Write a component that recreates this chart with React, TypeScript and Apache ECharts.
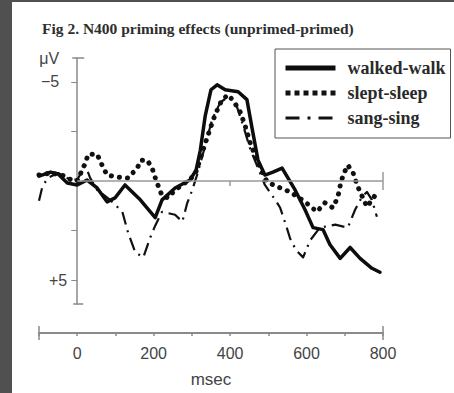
import React, { useEffect, useRef } from "react";
import * as echarts from "echarts";

// ERP difference waves (unprimed − primed), µV, negative plotted up
const walkedT = [-100, -70, -50, -26, 0, 26, 52, 78, 99, 125, 165, 204, 222, 256, 295, 311, 322, 335, 350, 366, 387, 421, 444, 458, 473, 491, 512, 536, 570, 596, 617, 643, 661, 688, 714, 740, 771, 792];
const walkedV = [-0.25, -0.45, -0.35, 0.1, 0.2, -0.05, 0.35, 1.05, 0.85, 0.2, 0.95, 1.85, 0.95, 0.35, -0.05, -0.55, -1.55, -3.3, -4.6, -4.85, -4.6, -4.5, -4.1, -2.6, -1.05, -0.3, -0.45, -0.65, 0.45, 1.45, 2.35, 2.45, 3.2, 3.9, 3.35, 3.9, 4.4, 4.6];

const sleptT = [-100, -70, -40, -10, 0, 21, 29, 52, 65, 78, 105, 133, 157, 167, 183, 196, 206, 222, 238, 256, 282, 308, 329, 342, 356, 369, 379, 395, 410, 426, 439, 452, 468, 484, 497, 525, 557, 596, 627, 648, 669, 682, 690, 698, 708, 722, 732, 758, 784];
const sleptV = [-0.3, -0.4, -0.3, 0.0, 0.0, -0.9, -1.35, -1.35, -0.8, -0.3, -0.2, -0.15, -0.65, -1.05, -1.05, -0.65, -0.05, 0.75, 0.85, 0.45, 0.1, -0.3, -1.55, -2.3, -3.1, -3.7, -4.1, -4.35, -4.0, -3.5, -2.8, -1.95, -1.15, -0.45, 0.05, 0.3, 0.55, 1.05, 1.55, 1.1, 1.35, 0.8, 0.05, -0.4, -0.8, -0.4, 0.2, 1.3, 0.6];

const sangT = [-100, -92, -78, -50, -26, 0, 21, 34, 52, 86, 118, 133, 152, 173, 191, 204, 222, 256, 275, 288, 301, 316, 335, 353, 374, 395, 416, 434, 452, 473, 491, 518, 531, 549, 557, 573, 591, 609, 635, 675, 708, 727, 745, 758, 771, 784];
const sangV = [1.0, 0.35, -0.15, -0.4, -0.15, -0.05, -0.8, -0.15, 0.45, 0.95, 1.55, 2.6, 3.6, 3.85, 2.85, 2.25, 1.55, 1.7, 2.05, 1.1, 0.45, -0.45, -1.8, -3.1, -3.95, -4.25, -3.85, -2.8, -1.65, -0.65, 0.2, 0.95, 1.35, 2.4, 2.9, 3.5, 3.85, 3.0, 2.35, 2.2, 2.35, 1.45, 0.8, 0.55, 0.95, 1.8];

const seriesNames = ["walked-walk", "slept-sleep", "sang-sing"];
const xLabelValues = [0, 200, 400, 600, 800];
const yLabelValues = [-6.2, -5, 5];
const yLabelTexts = ["μV", "−5", "+5"];
const yTickValues = [-5, -2.5, 2.5, 5];

const pairs = (t: number[], v: number[]) => t.map((x, i) => [x, v[i]]);

const SERIF = "'Liberation Serif', 'Times New Roman', serif";
const SANS = "'Liberation Sans', Arial, sans-serif";

const solidStyle = { color: "#0d0d0d", width: 3.5, type: "solid", join: "round", cap: "round" };
const dottedStyle = { color: "#111", width: 5, type: [0.1, 8], cap: "round", join: "round" };
const dashDotStyle = { color: "#111", width: 2.2, type: [13, 6, 2, 6], cap: "butt", join: "round" };

const GRID_LEFT = 27;
const GRID_WIDTH = 344;
const X_MIN = -100;
const X_MAX = 800;

export default function App() {
  const ref = useRef<HTMLDivElement>(null);

  useEffect(() => {
    if (!ref.current) return;
    const chart = echarts.init(ref.current, undefined, { renderer: "svg" });
    const yMin = -6.2;
    const yMax = 6.2;
    const xAxisOffset = 29;
    // the µV axis stands at t = 0, inside the plotting area
    const yAxisShift = -((0 - X_MIN) / (X_MAX - X_MIN)) * GRID_WIDTH;

    chart.setOption({
      animation: false,
      backgroundColor: "#ffffff",
      title: {
        text: "Fig 2. N400 priming effects (unprimed-primed)",
        left: 25,
        top: 13,
        textStyle: { fontFamily: SERIF, fontWeight: "bold", fontSize: 15.5, color: "#2e2e2e" },
      },
      legend: {
        data: [
          { name: seriesNames[0], lineStyle: { ...solidStyle, width: 5, cap: "butt" } },
          { name: seriesNames[1], lineStyle: { ...dottedStyle, width: 5, type: [5, 4], cap: "butt" } },
          { name: seriesNames[2], lineStyle: { ...dashDotStyle, width: 3, type: [14, 8, 3, 8] } },
        ],
        orient: "vertical",
        left: 263,
        top: 47,
        padding: [10, 5, 11, 8],
        itemWidth: 50,
        itemHeight: 14,
        itemGap: 7,
        itemStyle: { opacity: 0 },
        borderColor: "#555",
        borderWidth: 1,
        borderRadius: 0,
        selectedMode: false,
        textStyle: {
          fontFamily: SERIF,
          fontWeight: "bold",
          fontSize: 18,
          color: "#2a2a2a",
          padding: [0, 0, 0, 7],
          width: 100,
        },
      },
      grid: { left: GRID_LEFT, width: GRID_WIDTH, top: 56, height: 246, containLabel: false, outerBoundsMode: "none" },
      xAxis: {
        type: "value",
        min: X_MIN,
        max: X_MAX,
        interval: 100,
        offset: xAxisOffset,
        name: "msec",
        nameLocation: "middle",
        nameGap: 38,
        nameTextStyle: { fontFamily: SANS, fontSize: 17, color: "#444" },
        axisLine: { onZero: false, lineStyle: { color: "#8a8a8a", width: 2 } },
        axisTick: { show: true, length: 3, lineStyle: { color: "#8a8a8a", width: 1.5 } },
        axisLabel: {
          margin: 12,
          fontFamily: SANS,
          fontSize: 16,
          color: "#444",
          customValues: xLabelValues,
          showMinLabel: true,
          showMaxLabel: true,
        },
        splitLine: { show: false },
      },
      yAxis: {
        type: "value",
        min: yMin,
        max: yMax,
        inverse: true,
        offset: yAxisShift,
        axisLine: { onZero: false, lineStyle: { color: "#8a8a8a", width: 1.5 } },
        axisTick: { show: true, length: 6, customValues: yTickValues, lineStyle: { color: "#8a8a8a", width: 1 } },
        axisLabel: {
          margin: 10,
          fontFamily: SANS,
          fontSize: 16,
          color: "#444",
          customValues: yLabelValues,
          formatter: (v: number) => {
            const i = yLabelValues.findIndex((y) => Math.abs(y - v) < 1e-6);
            if (i < 0) return "";
            return i === 2 ? yLabelTexts[i] : `{w|${yLabelTexts[i]}}`;
          },
          rich: { w: { fontFamily: SANS, fontSize: 16, color: "#444", padding: [0, 8, 0, 0] } },
        },
        splitLine: { show: false },
      },
      series: [
        {
          name: "sang-sing",
          type: "line",
          data: pairs(sangT, sangV),
          showSymbol: false,
          symbol: "none",
          z: 2,
          lineStyle: dashDotStyle,
          itemStyle: { color: "#111" },
          markLine: {
            silent: true,
            symbol: "none",
            label: { show: false },
            lineStyle: { color: "#9a9a9a", width: 1.5, type: "solid" },
            data: [
              [{ coord: [0, 0] }, { coord: [800, 0] }],
              [{ coord: [400, 0] }, { coord: [400, 0.25] }],
              [{ coord: [800, -0.45] }, { coord: [800, 0.45] }],
            ],
          },
        },
        {
          name: "slept-sleep",
          type: "line",
          data: pairs(sleptT, sleptV),
          showSymbol: false,
          symbol: "none",
          z: 3,
          lineStyle: dottedStyle,
          itemStyle: { color: "#111" },
        },
        {
          name: "walked-walk",
          type: "line",
          data: pairs(walkedT, walkedV),
          showSymbol: false,
          symbol: "none",
          z: 4,
          lineStyle: solidStyle,
          itemStyle: { color: "#0d0d0d" },
        },
      ],
    });

    // End caps of the two axis lines, placed through the chart's own scales
    const top = chart.convertToPixel({ gridIndex: 0 }, [0, yMin]) as number[];
    const bot = chart.convertToPixel({ gridIndex: 0 }, [0, yMax]) as number[];
    const left = chart.convertToPixel({ gridIndex: 0 }, [X_MIN, yMax]) as number[];
    const right = chart.convertToPixel({ gridIndex: 0 }, [X_MAX, yMax]) as number[];
    const axisY = bot[1] + xAxisOffset;
    const capStyle = { stroke: "#8a8a8a", lineWidth: 1.5 };
    chart.setOption({
      graphic: [
        { type: "line", shape: { x1: top[0] - 5, y1: top[1], x2: top[0] + 7, y2: top[1] }, style: capStyle },
        { type: "line", shape: { x1: bot[0] - 4, y1: bot[1], x2: bot[0] + 6, y2: bot[1] }, style: capStyle },
        { type: "line", shape: { x1: left[0], y1: axisY - 7, x2: left[0], y2: axisY + 7 }, style: capStyle },
        { type: "line", shape: { x1: right[0], y1: axisY - 7, x2: right[0], y2: axisY + 7 }, style: capStyle },
      ],
    });

    return () => chart.dispose();
  }, []);

  return (
    <div style={{ position: "fixed", left: 0, top: 0, width: 454, height: 393, background: "#505050" }}>
      <div
        ref={ref}
        style={{ position: "absolute", left: 12, top: 2, width: 442, height: 391, background: "#ffffff" }}
      />
    </div>
  );
}
